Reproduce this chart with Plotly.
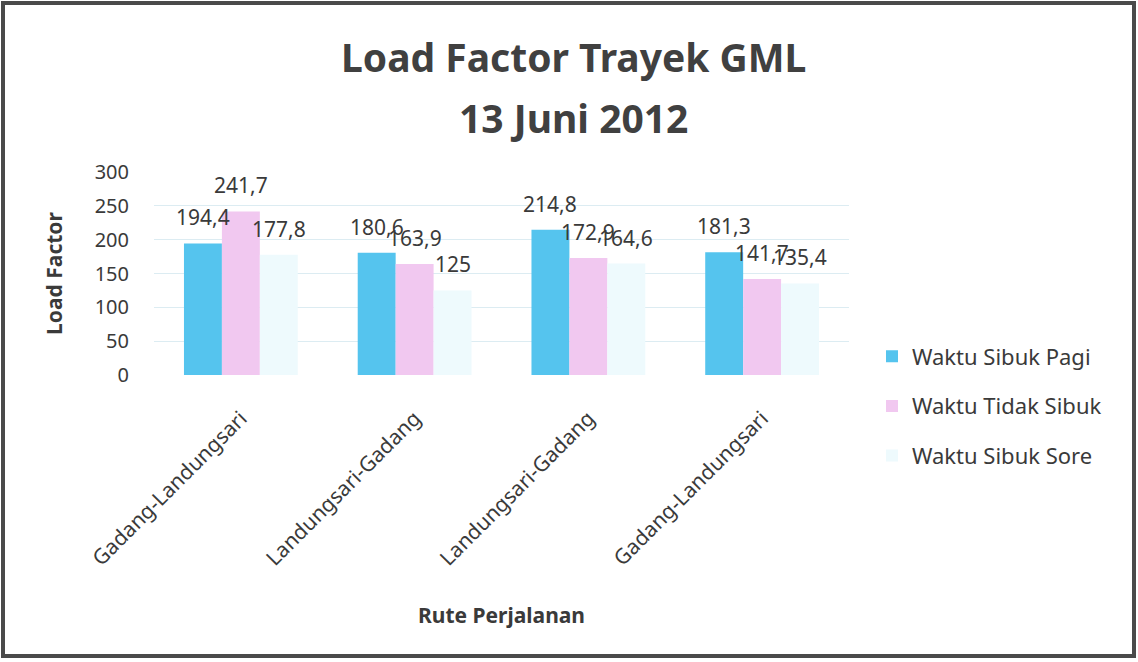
import plotly.graph_objects as go

categories = ["Gadang-Landungsari", "Landungsari-Gadang", "Landungsari-Gadang", "Gadang-Landungsari"]
series_names = ["Waktu Sibuk Pagi", "Waktu Tidak Sibuk", "Waktu Sibuk Sore"]
pagi = [194.4, 180.6, 214.8, 181.3]
tidak_sibuk = [241.7, 163.9, 172.9, 141.7]
sore = [177.8, 125, 164.6, 135.4]
y_ticks = [0, 50, 100, 150, 200, 250, 300]
title_lines = ["Load Factor Trayek GML", "13 Juni 2012"]

colors = ["#55c4ee", "#f1c8f0", "#eefafd"]
positions = list(range(len(categories)))

W, H = 1138, 662
L, R, T, B = 154, 289, 172, 287
PW, PH = W - L - R, H - T - B
BARGAP = 0.345
n_series = len(series_names)
bar_w = (1 - BARGAP) / n_series


def fmt(v):
    return (f"{v:g}").replace(".", ",")


def px_x(x):
    return (x - L) / PW


def px_y(y):
    return (H - B - y) / PH


fig = go.Figure()
for i, (name, vals) in enumerate(zip(series_names, [pagi, tidak_sibuk, sore])):
    off = (i - (n_series - 1) / 2) * bar_w
    fig.add_trace(go.Bar(
        x=positions, y=vals, name=name,
        marker=dict(color=colors[i], line=dict(width=0)),
        legendgroup=name,
    ))
    for p, v in zip(positions, vals):
        fig.add_annotation(
            x=p + off, y=v, xref="x", yref="y", text=fmt(v),
            xanchor="center", yanchor="bottom", yshift=10, showarrow=False,
            font=dict(size=21, color="#3a3a3a", family="Noto Sans"),
        )

fig.update_layout(
    width=W, height=H,
    paper_bgcolor="white", plot_bgcolor="white",
    barmode="group", bargap=BARGAP, bargroupgap=0,
    margin=dict(l=L, r=R, t=T, b=B),
    font=dict(family="Noto Sans", color="#3a3a3a"),
    showlegend=True,
    legend=dict(
        x=px_x(872), y=px_y(406), xanchor="left", yanchor="middle",
        font=dict(size=22, color="#3a3a3a"),
        tracegroupgap=18, itemwidth=30,
        bgcolor="rgba(0,0,0,0)",
    ),
)
for line, yc in zip(title_lines, [57, 117]):
    fig.add_annotation(
        text=f"<b>{line}</b>", xref="paper", yref="paper",
        x=px_x(573), y=px_y(yc), xanchor="center", yanchor="middle",
        showarrow=False, font=dict(size=39, family="Noto Sans", color="#404040"),
    )

fig.update_xaxes(
    tickmode="array", tickvals=positions, ticktext=categories,
    tickangle=-45, tickfont=dict(size=21, color="#3a3a3a"),
    showgrid=False, showline=False, zeroline=False, ticks="",
    ticklabelstandoff=26,
    range=[-0.5, len(categories) - 0.5],
    title=dict(text="<b>Rute Perjalanan</b>", font=dict(size=21, color="#3a3a3a"), standoff=38),
)
fig.update_yaxes(
    range=[0, 300], tickvals=y_ticks, tickfont=dict(size=20, color="#3a3a3a"),
    showgrid=True, gridcolor="#dcecf2", gridwidth=1, zeroline=False, showline=False,
    ticklabelstandoff=24,
    title=dict(text="<b>Load Factor</b>", font=dict(size=21, color="#3a3a3a"), standoff=26),
)

# outer frame of the chart image
fig.add_shape(type="rect", xref="paper", yref="paper",
              x0=px_x(3), x1=px_x(1134), y0=px_y(656), y1=px_y(3),
              line=dict(color="#4a4a4a", width=4), fillcolor="rgba(0,0,0,0)", layer="above")

fig.write_html("out.html", config={"displayModeBar": False},
               post_script="document.body.style.margin='0';document.body.style.overflow='hidden';")
